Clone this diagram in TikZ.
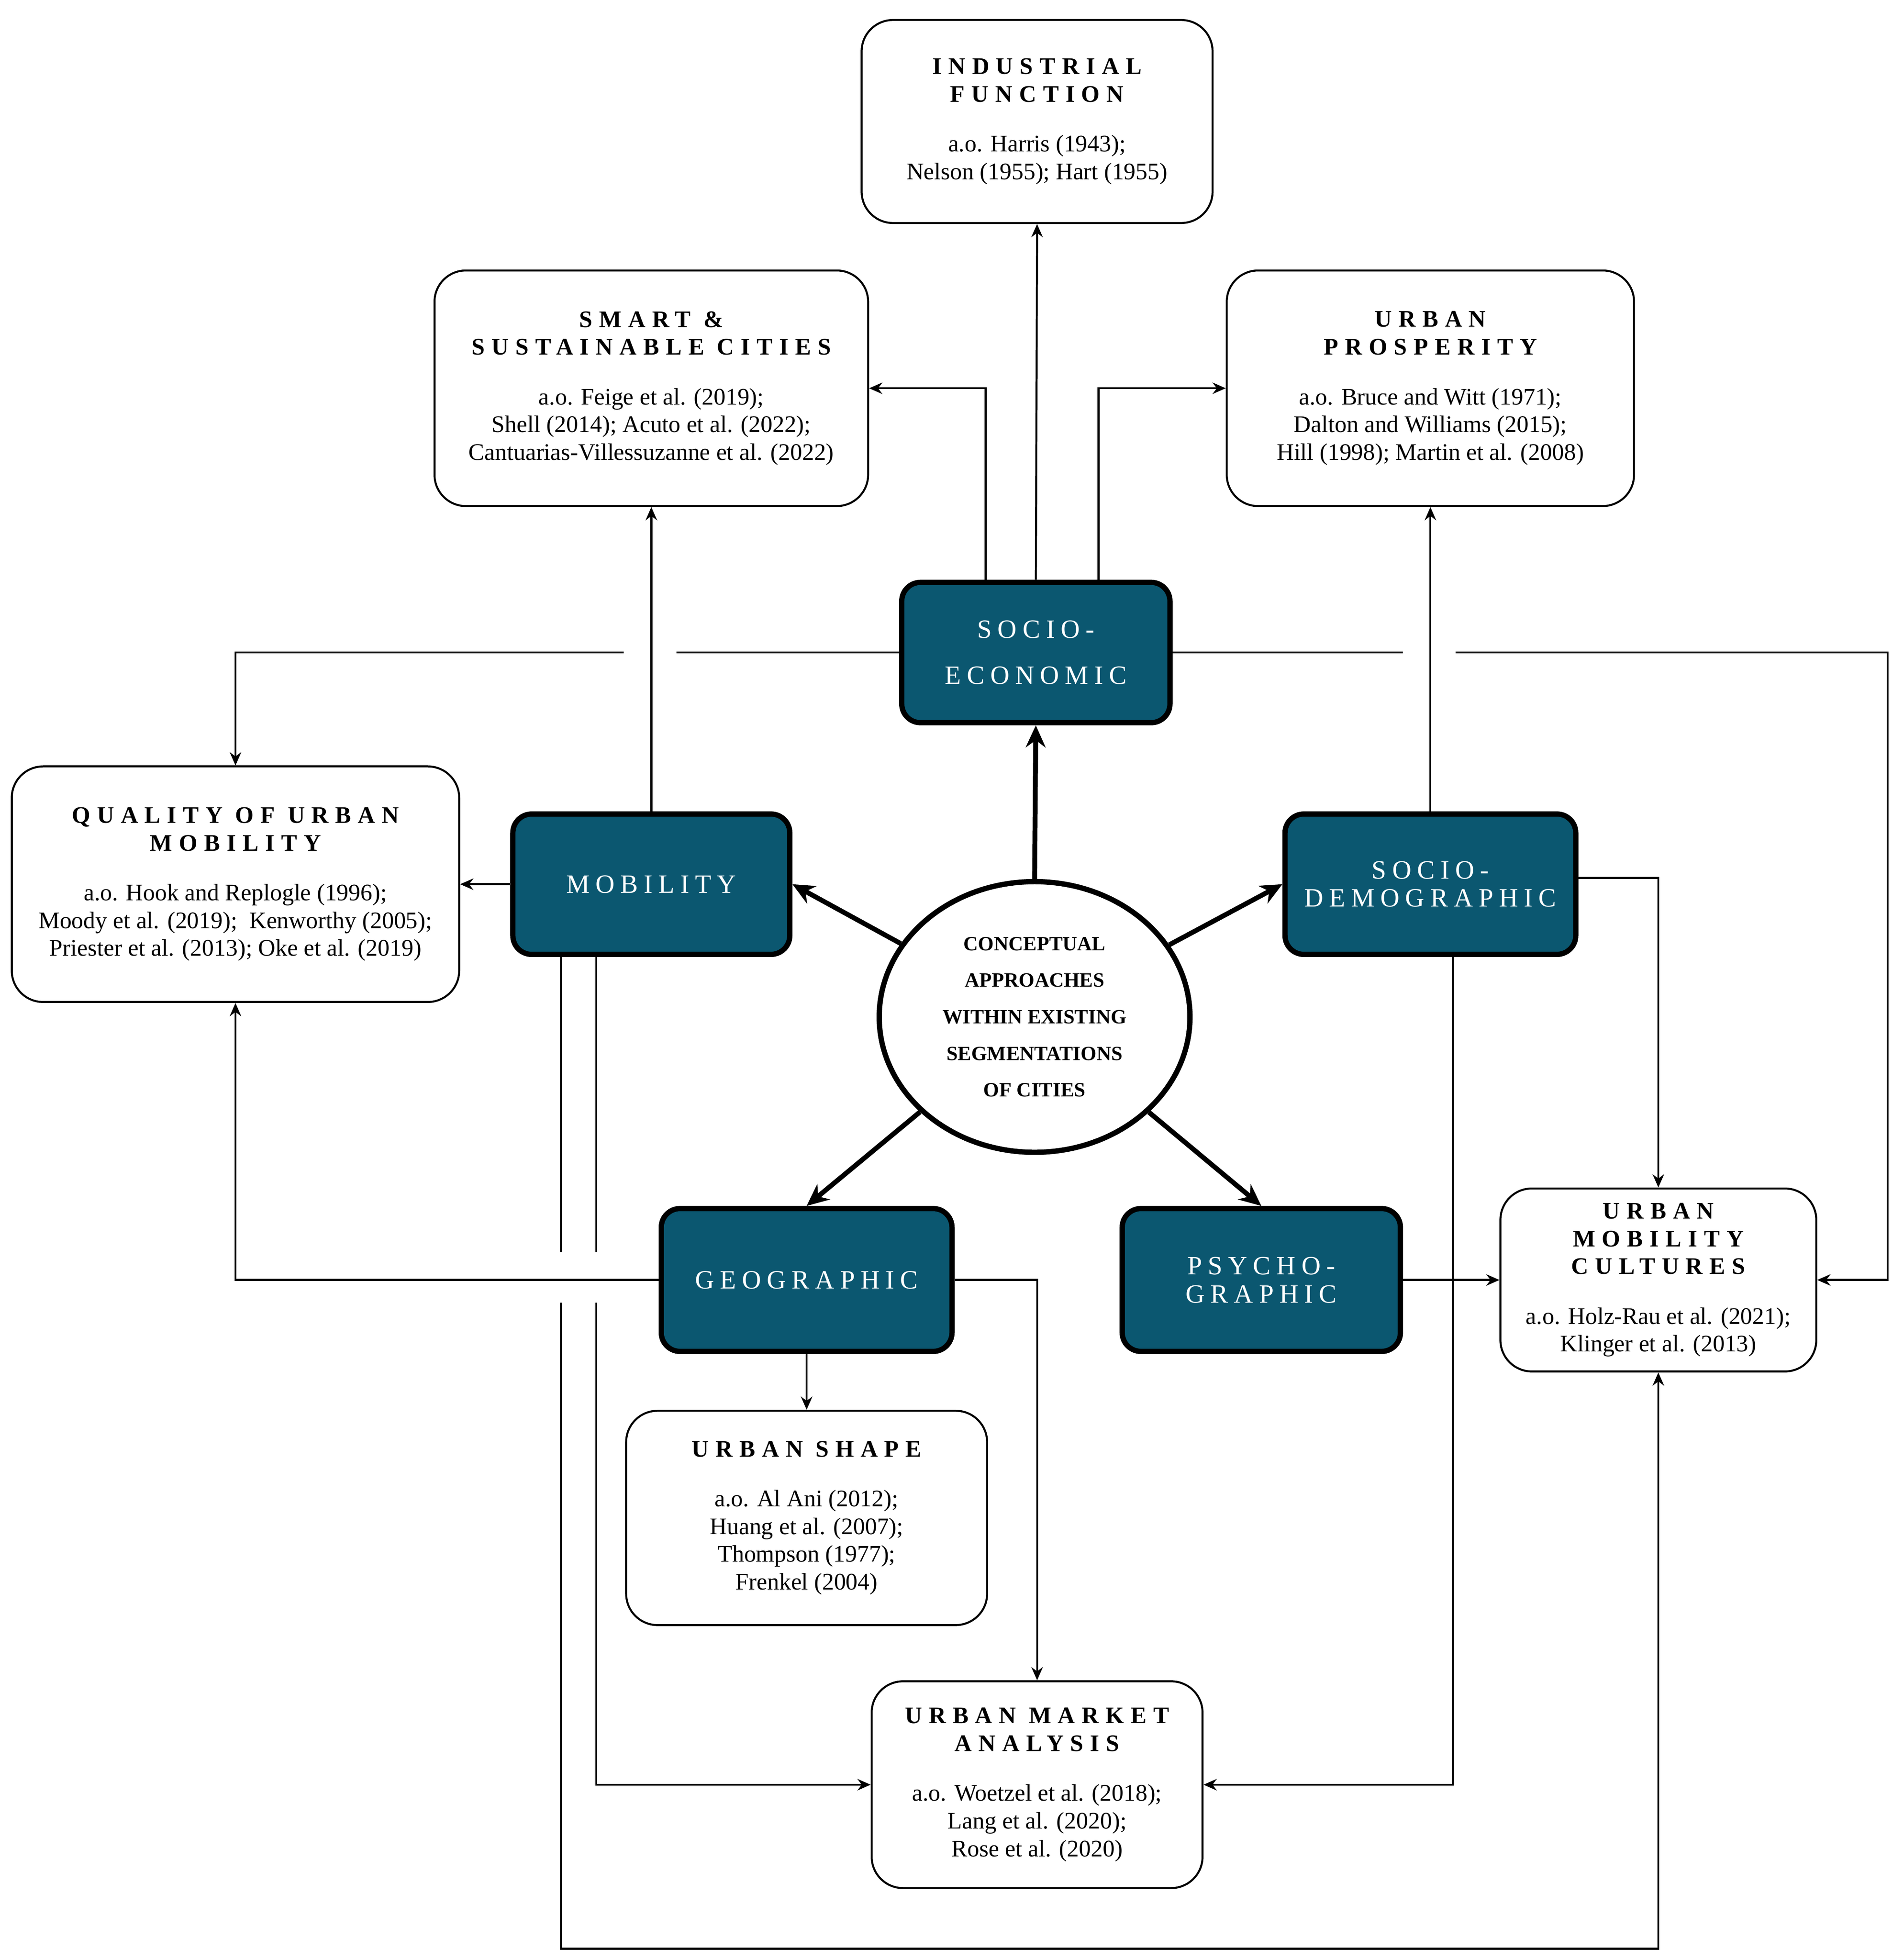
\documentclass[tikz,border=0pt]{standalone}
\usepackage{fontspec}
\setmainfont{Liberation Serif}
\newfontfamily\ttl[LetterSpace=28]{Liberation Serif}
\newfontfamily\dtl[LetterSpace=22]{Liberation Serif}
\usetikzlibrary{arrows.meta,shapes.geometric}
\definecolor{tealc}{RGB}{11,87,112}
\newcommand{\mytl}[1]{{\ttl\bfseries #1}}
\begin{document}
\begin{tikzpicture}[x=0.01cm,y=-0.01cm,
  wbox/.style={draw,line width=0.45pt,rounded corners=0.25cm,align=center,inner sep=0pt,font=\fontsize{5.4}{6.3}\selectfont},
  dbox/.style={draw,line width=1.2pt,fill=tealc,text=white,rounded corners=0.15cm,align=center,inner sep=0pt,font=\dtl\fontsize{6}{6.4}\selectfont},
  ln/.style={line width=0.45pt},
  arr/.style={ln,-{Stealth[length=3pt,width=2.6pt]}},
  tarr/.style={line width=1.1pt,-{Stealth[length=5pt,width=4.5pt]}}]
\useasboundingbox (0,0) rectangle (1520,1565);
\node[wbox,minimum width=2.8cm,minimum height=1.62cm] (ind) at (828,97) {\mytl{INDUSTRIAL}\\\mytl{FUNCTION}\\[5pt]a.o. Harris (1943);\\Nelson (1955); Hart (1955)};
\node[wbox,minimum width=3.46cm,minimum height=1.88cm] (smart) at (520,310) {\mytl{SMART \&}\\\mytl{SUSTAINABLE CITIES}\\[5pt]a.o. Feige et al. (2019);\\Shell (2014); Acuto et al. (2022);\\Cantuarias-Villessuzanne et al. (2022)};
\node[wbox,minimum width=3.25cm,minimum height=1.88cm] (pros) at (1142,310) {\mytl{URBAN}\\\mytl{PROSPERITY}\\[5pt]a.o. Bruce and Witt (1971);\\Dalton and Williams (2015);\\Hill (1998); Martin et al. (2008)};
\node[wbox,minimum width=3.57cm,minimum height=1.88cm] (qual) at (188,706) {\mytl{QUALITY OF URBAN}\\\mytl{MOBILITY}\\[5pt]a.o. Hook and Replogle (1996);\\Moody et al. (2019);\ \ Kenworthy (2005);\\Priester et al. (2013); Oke et al. (2019)};
\node[wbox,minimum width=2.52cm,minimum height=1.46cm] (cult) at (1324,1022) {\mytl{URBAN}\\\mytl{MOBILITY}\\\mytl{CULTURES}\\[5pt]a.o. Holz-Rau et al. (2021);\\Klinger et al. (2013)};
\node[wbox,minimum width=2.88cm,minimum height=1.71cm] (shape) at (644,1212) {\mytl{URBAN SHAPE}\\[5pt]a.o. Al Ani (2012);\\Huang et al. (2007);\\Thompson (1977);\\Frenkel (2004)};
\node[wbox,minimum width=2.64cm,minimum height=1.65cm] (mkt) at (828,1425) {\mytl{URBAN MARKET}\\\mytl{ANALYSIS}\\[5pt]a.o. Woetzel et al. (2018);\\Lang et al. (2020);\\Rose et al. (2020)};
\node[dbox,minimum width=2.14cm,minimum height=1.12cm] (se) at (827,521) {SOCIO-\\[4pt]ECONOMIC};
\node[dbox,minimum width=2.21cm,minimum height=1.12cm] (mob) at (520,706) {MOBILITY};
\node[dbox,minimum width=2.32cm,minimum height=1.12cm] (sd) at (1142,706) {SOCIO-\\DEMOGRAPHIC};
\node[dbox,minimum width=2.32cm,minimum height=1.14cm] (geo) at (644,1022) {GEOGRAPHIC};
\node[dbox,minimum width=2.22cm,minimum height=1.14cm] (psy) at (1007,1022) {PSYCHO-\\GRAPHIC};
\node[draw,line width=1.2pt,ellipse,minimum width=2.48cm,minimum height=2.16cm,align=center,inner sep=0pt,font=\bfseries\fontsize{4.6}{8.3}\selectfont] (c) at (826,812) {CONCEPTUAL\\APPROACHES\\WITHIN EXISTING\\SEGMENTATIONS\\OF CITIES};
\coordinate (seL) at (787,465);
\coordinate (seR) at (877,465);
\coordinate (g1) at (540,521);
\coordinate (g2) at (498,521);
\coordinate (g3) at (1120,521);
\coordinate (g4) at (1162,521);
\coordinate (rc) at (1507,1022);
\coordinate (m1) at (448,762);
\coordinate (m2) at (448,1000);
\coordinate (m3) at (448,1040);
\coordinate (m4) at (448,1556);
\coordinate (n1) at (476,762);
\coordinate (n2) at (476,1000);
\coordinate (n3) at (476,1040);
\coordinate (sdE) at (1258,701);
\coordinate (sdB) at (1160,762);
% thick arrows
\draw[tarr] (c.north) -- (se.south);
\draw[tarr] (c) -- (mob.east);
\draw[tarr] (c) -- (sd.west);
\draw[tarr] (c) -- (geo.north);
\draw[tarr] (c) -- (psy.north);
% socio-economic
\draw[arr] (se.north) -- (ind.south);
\draw[arr] (seL) |- (smart.east);
\draw[arr] (seR) |- (pros.west);
\draw[ln] (se.west) -- (g1);
\draw[arr] (g2) -| (qual.north);
\draw[ln] (se.east) -- (g3);
\draw[arr] (g4) -| (rc) -- (cult.east);
% mobility
\draw[arr] (mob.north) -- (smart.south);
\draw[arr] (mob.west) -- (qual.east);
\draw[ln] (m1) -- (m2);
\draw[arr] (m3) -- (m4) -| (cult.south);
\draw[ln] (n1) -- (n2);
\draw[arr] (n3) |- (mkt.west);
% socio-demographic
\draw[arr] (sd.north) -- (pros.south);
\draw[arr] (sdE) -| (cult.north);
\draw[arr] (sdB) |- (mkt.east);
% geographic
\draw[arr] (geo.west) -| (qual.south);
\draw[arr] (geo.east) -| (mkt.north);
\draw[arr] (geo.south) -- (shape.north);
\draw[arr] (psy.east) -- (cult.west);
\end{tikzpicture}
\end{document}
